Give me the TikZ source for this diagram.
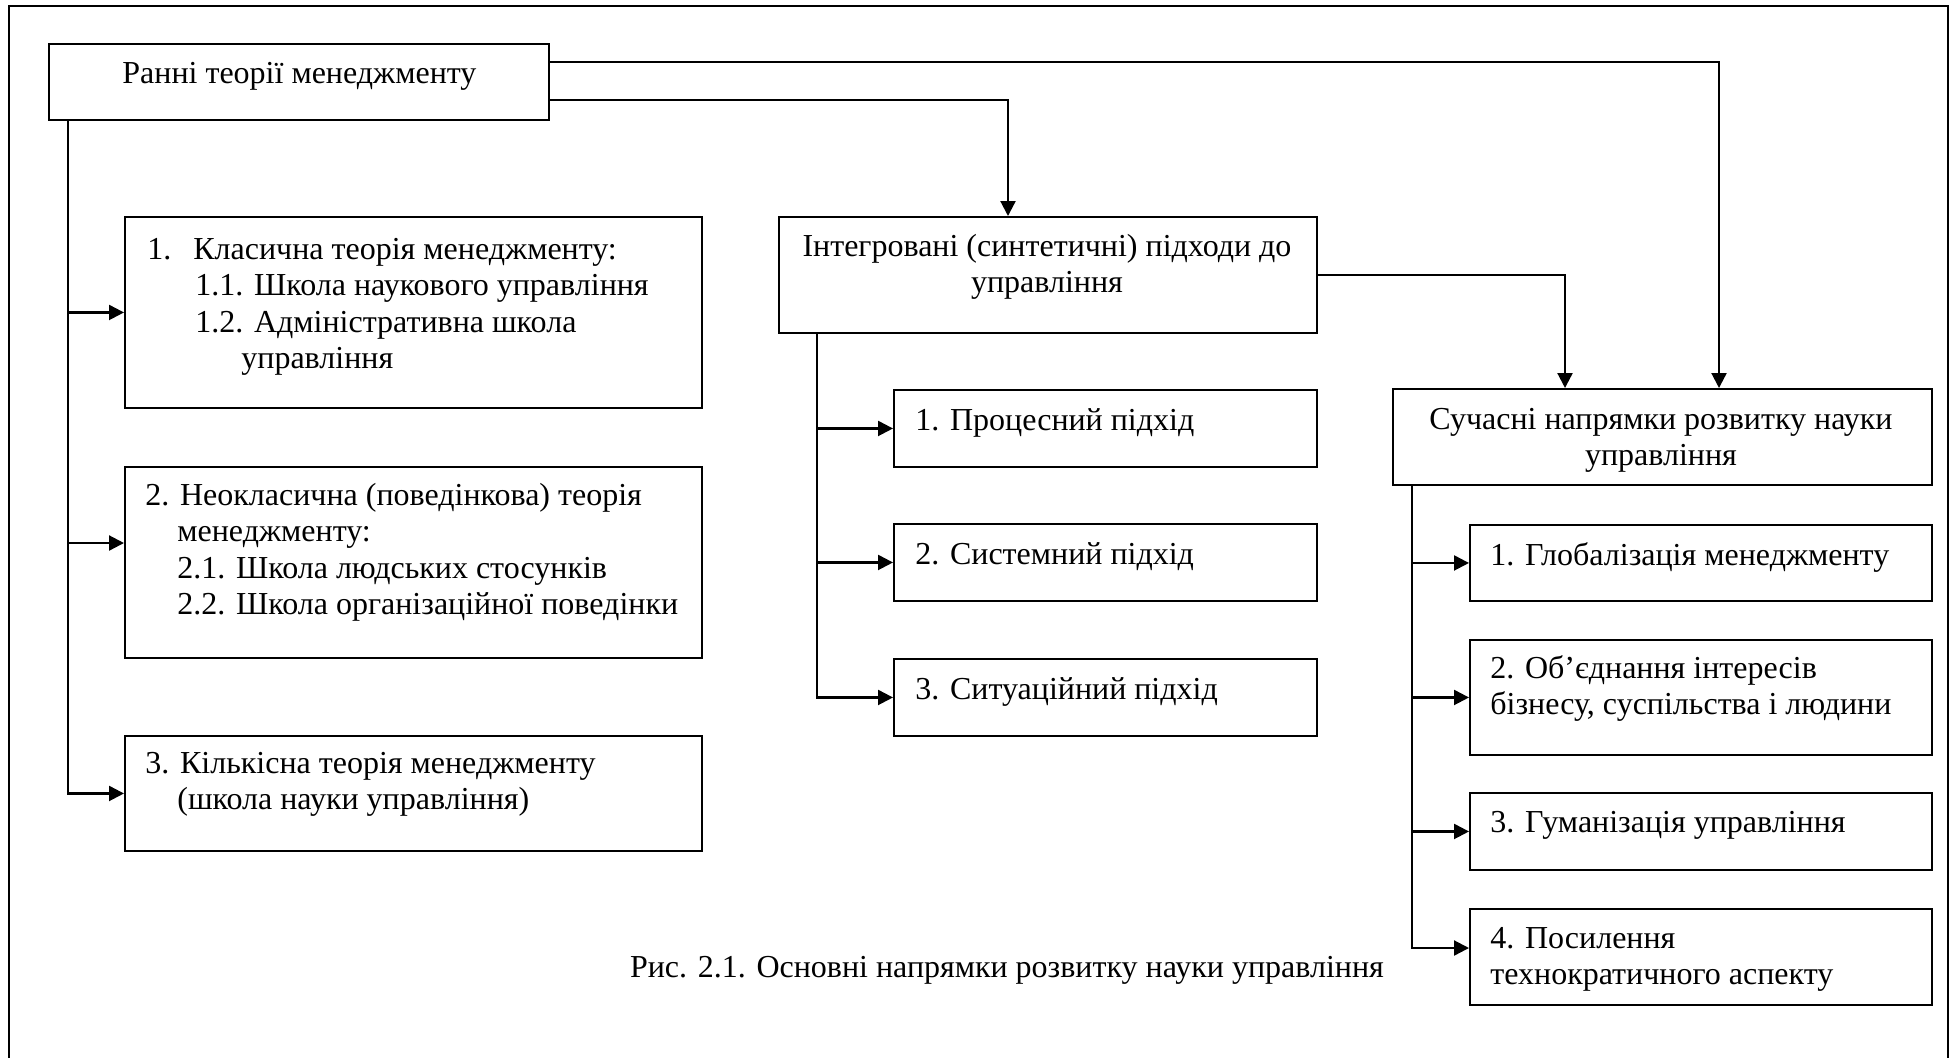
\documentclass[tikz,border=0pt]{standalone}
\usepackage{fontspec}
\setmainfont{Liberation Serif}
\usetikzlibrary{arrows.meta,calc}
\begin{document}
\begin{tikzpicture}[x=0.5pt,y=-0.5pt,
  bx/.style={draw,line width=0.95pt,inner sep=0pt,anchor=north west},
  txt/.style={inner sep=0pt,font=\fontsize{16pt}{18.3pt}\selectfont},
  capt/.style={inner sep=0pt,font=\fontsize{16pt}{18.3pt}\selectfont},
  arr/.style={line width=1.1pt,-{Triangle[length=7.5pt,width=7.5pt]}},
  ln/.style={line width=1.1pt}]
\useasboundingbox (0,0) rectangle (1953,1057);
% outer frame
\draw[line width=1.2pt] (9,1070) -- (9,6) -- (1948,6) -- (1948,1070);
% boxes
\node[bx,minimum width=250pt,minimum height=38pt] (A) at (48,43) {};
\node[bx,minimum width=288.5pt,minimum height=95.5pt] (A1) at (124,216) {};
\node[bx,minimum width=288.5pt,minimum height=95.5pt] (A2) at (124,466) {};
\node[bx,minimum width=288.5pt,minimum height=57.5pt] (A3) at (124,735) {};
\node[bx,minimum width=269pt,minimum height=58pt] (B) at (778,216) {};
\node[bx,minimum width=211.5pt,minimum height=38.5pt] (B1) at (893,389) {};
\node[bx,minimum width=211.5pt,minimum height=38.5pt] (B2) at (893,523) {};
\node[bx,minimum width=211.5pt,minimum height=38.5pt] (B3) at (893,658) {};
\node[bx,minimum width=269.5pt,minimum height=48pt] (C) at (1392,388) {};
\node[bx,minimum width=231pt,minimum height=38pt] (C1) at (1469,524) {};
\node[bx,minimum width=231pt,minimum height=57.5pt] (C2) at (1469,639) {};
\node[bx,minimum width=231pt,minimum height=38.5pt] (C3) at (1469,792) {};
\node[bx,minimum width=231pt,minimum height=48pt] (C4) at (1469,908) {};
% texts
\node[txt,anchor=base west] (At) at (122,83) {Ранні теорії менеджменту};
\node[txt,anchor=base west] (A1t) at (147,259) {\parbox[t]{280pt}{\raggedright
  \makebox[23pt][l]{1.}Класична теорія менеджменту:\\
  \hspace*{24pt}1.1. Школа наукового управління\\
  \hspace*{24pt}1.2. Адміністративна школа\\
  \hspace*{47pt}управління}};
\node[txt,anchor=base west] (A2t) at (145,505) {\parbox[t]{280pt}{\raggedright
  2. Неокласична (поведінкова) теорія\\
  \hspace*{16pt}менеджменту:\\
  \hspace*{16pt}2.1. Школа людських стосунків\\
  \hspace*{16pt}2.2. Школа організаційної поведінки}};
\node[txt,anchor=base west] (A3t) at (145,773) {\parbox[t]{280pt}{\raggedright
  3. Кількісна теорія менеджменту\\
  \hspace*{16pt}(школа науки управління)}};
\node[txt,anchor=base] (Bt) at (1047,256) {\parbox[t]{269pt}{\centering
  Інтегровані (синтетичні) підходи до\\управління}};
\node[txt,anchor=base west] (B1t) at (915,430) {1. Процесний підхід};
\node[txt,anchor=base west] (B2t) at (915,564) {2. Системний підхід};
\node[txt,anchor=base west] (B3t) at (915,699) {3. Ситуаційний підхід};
\node[txt,anchor=base] (Ct) at (1661,429) {\parbox[t]{269pt}{\centering
  Сучасні напрямки розвитку науки\\управління}};
\node[txt,anchor=base west] (C1t) at (1490,565) {1. Глобалізація менеджменту};
\node[txt,anchor=base west] (C2t) at (1490,678) {\parbox[t]{230pt}{\raggedright
  2. Об’єднання інтересів\\бізнесу, суспільства і людини}};
\node[txt,anchor=base west] (C3t) at (1490,832) {3. Гуманізація управління};
\node[txt,anchor=base west] (C4t) at (1490,948) {\parbox[t]{230pt}{\raggedright
  4. Посилення\\технократичного аспекту}};
\node[capt,anchor=base] (cap) at (1007,977) {Рис. 2.1. Основні напрямки розвитку науки управління};
% connectors
\coordinate (LT) at ($(A.south west)+(20,0)$);
\draw[arr] (LT) |- (A1.west);
\draw[arr] (LT) |- ($(A2.north west)+(0,77)$);
\draw[arr] (LT) |- (A3.west);
\coordinate (MT) at ($(B.south west)+(39,0)$);
\draw[arr] (MT) |- (B1.west);
\draw[arr] (MT) |- (B2.west);
\draw[arr] (MT) |- (B3.west);
\coordinate (RT) at ($(C.south west)+(20,0)$);
\draw[arr] (RT) |- (C1.west);
\draw[arr] (RT) |- (C2.west);
\draw[arr] (RT) |- (C3.west);
\draw[arr] (RT) |- ($(C4.north west)+(0,40)$);
\draw[arr] ($(A.north east)+(0,19)$) -| ($(C.north west)+(327,0)$);
\draw[arr] ($(A.north east)+(0,57)$) -| ($(B.north west)+(230,0)$);
\draw[arr] (B.east) -| ($(C.north west)+(173,0)$);
\end{tikzpicture}
\end{document}
